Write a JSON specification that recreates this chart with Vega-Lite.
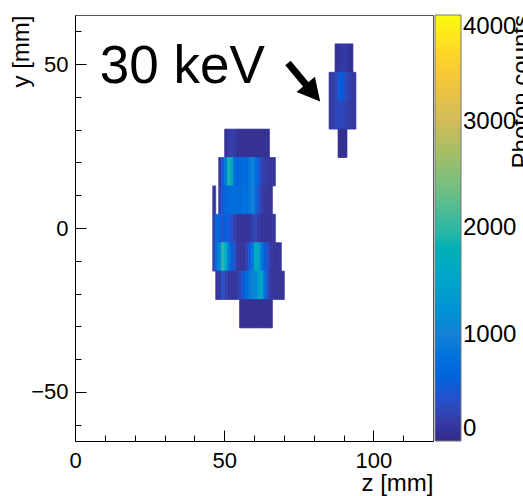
{
  "$schema": "https://vega.github.io/schema/vega-lite/v6.json",
  "width": 358,
  "height": 426,
  "autosize": {"type": "none"},
  "padding": {"left": 75, "top": 15, "right": 90, "bottom": 55},
  "background": "white",
  "config": {
    "view": {"stroke": "#555", "strokeWidth": 1},
    "font": "Liberation Sans",
    "axis": {"domainColor": "black", "domainWidth": 1, "tickColor": "black", "labelColor": "black", "titleColor": "black", "labelFont": "Liberation Sans", "titleFont": "Liberation Sans", "titleFontWeight": "normal", "labelFontSize": 22, "titleFontSize": 24, "grid": false}
  },
  "resolve": {"axis": {"x": "independent", "y": "independent"}},
  "datasets": {
    "hist": [
      {"z": 87.5, "y": 52, "c": 80}, {"z": 88.5, "y": 52, "c": 120}, {"z": 89.5, "y": 52, "c": 180}, {"z": 90.5, "y": 52, "c": 180}, {"z": 91.5, "y": 52, "c": 120}, {"z": 92.5, "y": 52, "c": 80},
      {"z": 85.5, "y": 43.33, "c": 150}, {"z": 86.5, "y": 43.33, "c": 200}, {"z": 87.5, "y": 43.33, "c": 300}, {"z": 88.5, "y": 43.33, "c": 500}, {"z": 89.5, "y": 43.33, "c": 550}, {"z": 90.5, "y": 43.33, "c": 350}, {"z": 91.5, "y": 43.33, "c": 250}, {"z": 92.5, "y": 43.33, "c": 200}, {"z": 93.5, "y": 43.33, "c": 150},
      {"z": 85.5, "y": 34.67, "c": 150}, {"z": 86.5, "y": 34.67, "c": 220}, {"z": 87.5, "y": 34.67, "c": 300}, {"z": 88.5, "y": 34.67, "c": 320}, {"z": 89.5, "y": 34.67, "c": 300}, {"z": 90.5, "y": 34.67, "c": 260}, {"z": 91.5, "y": 34.67, "c": 200}, {"z": 92.5, "y": 34.67, "c": 160}, {"z": 93.5, "y": 34.67, "c": 130},
      {"z": 88.5, "y": 26, "c": 80}, {"z": 89.5, "y": 26, "c": 80}, {"z": 90.5, "y": 26, "c": 80},
      {"z": 50.5, "y": 26, "c": 80}, {"z": 51.5, "y": 26, "c": 180}, {"z": 52.5, "y": 26, "c": 200}, {"z": 53.5, "y": 26, "c": 170}, {"z": 54.5, "y": 26, "c": 90}, {"z": 55.5, "y": 26, "c": 70}, {"z": 56.5, "y": 26, "c": 70}, {"z": 57.5, "y": 26, "c": 70}, {"z": 58.5, "y": 26, "c": 70}, {"z": 59.5, "y": 26, "c": 70}, {"z": 60.5, "y": 26, "c": 70}, {"z": 61.5, "y": 26, "c": 70}, {"z": 62.5, "y": 26, "c": 70}, {"z": 63.5, "y": 26, "c": 70}, {"z": 64.5, "y": 26, "c": 70},
      {"z": 48.5, "y": 17.33, "c": 150}, {"z": 49.5, "y": 17.33, "c": 500}, {"z": 50.5, "y": 17.33, "c": 900}, {"z": 51.5, "y": 17.33, "c": 1900}, {"z": 52.5, "y": 17.33, "c": 1500}, {"z": 53.5, "y": 17.33, "c": 700}, {"z": 54.5, "y": 17.33, "c": 600}, {"z": 55.5, "y": 17.33, "c": 650}, {"z": 56.5, "y": 17.33, "c": 700}, {"z": 57.5, "y": 17.33, "c": 700}, {"z": 58.5, "y": 17.33, "c": 850}, {"z": 59.5, "y": 17.33, "c": 1000}, {"z": 60.5, "y": 17.33, "c": 750}, {"z": 61.5, "y": 17.33, "c": 500}, {"z": 62.5, "y": 17.33, "c": 250}, {"z": 63.5, "y": 17.33, "c": 180}, {"z": 64.5, "y": 17.33, "c": 150}, {"z": 65.5, "y": 17.33, "c": 120}, {"z": 66.5, "y": 17.33, "c": 120},
      {"z": 46.5, "y": 8.67, "c": 150},
      {"z": 48.5, "y": 8.67, "c": 200}, {"z": 49.5, "y": 8.67, "c": 500}, {"z": 50.5, "y": 8.67, "c": 600}, {"z": 51.5, "y": 8.67, "c": 650}, {"z": 52.5, "y": 8.67, "c": 700}, {"z": 53.5, "y": 8.67, "c": 750}, {"z": 54.5, "y": 8.67, "c": 700}, {"z": 55.5, "y": 8.67, "c": 700}, {"z": 56.5, "y": 8.67, "c": 750}, {"z": 57.5, "y": 8.67, "c": 750}, {"z": 58.5, "y": 8.67, "c": 850}, {"z": 59.5, "y": 8.67, "c": 1000}, {"z": 60.5, "y": 8.67, "c": 700}, {"z": 61.5, "y": 8.67, "c": 400}, {"z": 62.5, "y": 8.67, "c": 200}, {"z": 63.5, "y": 8.67, "c": 150}, {"z": 64.5, "y": 8.67, "c": 120}, {"z": 65.5, "y": 8.67, "c": 120},
      {"z": 46.5, "y": 0, "c": 250}, {"z": 47.5, "y": 0, "c": 650}, {"z": 48.5, "y": 0, "c": 550}, {"z": 49.5, "y": 0, "c": 400}, {"z": 50.5, "y": 0, "c": 550}, {"z": 51.5, "y": 0, "c": 500}, {"z": 52.5, "y": 0, "c": 350}, {"z": 53.5, "y": 0, "c": 220}, {"z": 54.5, "y": 0, "c": 130}, {"z": 55.5, "y": 0, "c": 110}, {"z": 56.5, "y": 0, "c": 100}, {"z": 57.5, "y": 0, "c": 100}, {"z": 58.5, "y": 0, "c": 130}, {"z": 59.5, "y": 0, "c": 220}, {"z": 60.5, "y": 0, "c": 300}, {"z": 61.5, "y": 0, "c": 160}, {"z": 62.5, "y": 0, "c": 100}, {"z": 63.5, "y": 0, "c": 100}, {"z": 64.5, "y": 0, "c": 100}, {"z": 65.5, "y": 0, "c": 100}, {"z": 66.5, "y": 0, "c": 130},
      {"z": 46.5, "y": -8.67, "c": 250}, {"z": 47.5, "y": -8.67, "c": 800}, {"z": 48.5, "y": -8.67, "c": 1100}, {"z": 49.5, "y": -8.67, "c": 2000}, {"z": 50.5, "y": -8.67, "c": 1700}, {"z": 51.5, "y": -8.67, "c": 900}, {"z": 52.5, "y": -8.67, "c": 550}, {"z": 53.5, "y": -8.67, "c": 380}, {"z": 54.5, "y": -8.67, "c": 150}, {"z": 55.5, "y": -8.67, "c": 120}, {"z": 56.5, "y": -8.67, "c": 120}, {"z": 57.5, "y": -8.67, "c": 250}, {"z": 58.5, "y": -8.67, "c": 500}, {"z": 59.5, "y": -8.67, "c": 900}, {"z": 60.5, "y": -8.67, "c": 1700}, {"z": 61.5, "y": -8.67, "c": 1500}, {"z": 62.5, "y": -8.67, "c": 900}, {"z": 63.5, "y": -8.67, "c": 550}, {"z": 64.5, "y": -8.67, "c": 380}, {"z": 65.5, "y": -8.67, "c": 180}, {"z": 66.5, "y": -8.67, "c": 120}, {"z": 67.5, "y": -8.67, "c": 120}, {"z": 68.5, "y": -8.67, "c": 120},
      {"z": 47.5, "y": -17.33, "c": 120}, {"z": 48.5, "y": -17.33, "c": 150}, {"z": 49.5, "y": -17.33, "c": 400}, {"z": 50.5, "y": -17.33, "c": 250}, {"z": 51.5, "y": -17.33, "c": 150}, {"z": 52.5, "y": -17.33, "c": 120}, {"z": 53.5, "y": -17.33, "c": 120}, {"z": 54.5, "y": -17.33, "c": 200}, {"z": 55.5, "y": -17.33, "c": 330}, {"z": 56.5, "y": -17.33, "c": 550}, {"z": 57.5, "y": -17.33, "c": 700}, {"z": 58.5, "y": -17.33, "c": 900}, {"z": 59.5, "y": -17.33, "c": 1000}, {"z": 60.5, "y": -17.33, "c": 1100}, {"z": 61.5, "y": -17.33, "c": 1400}, {"z": 62.5, "y": -17.33, "c": 1600}, {"z": 63.5, "y": -17.33, "c": 800}, {"z": 64.5, "y": -17.33, "c": 400}, {"z": 65.5, "y": -17.33, "c": 150}, {"z": 66.5, "y": -17.33, "c": 120}, {"z": 67.5, "y": -17.33, "c": 120}, {"z": 68.5, "y": -17.33, "c": 120}, {"z": 69.5, "y": -17.33, "c": 120},
      {"z": 55.5, "y": -26, "c": 70}, {"z": 56.5, "y": -26, "c": 70}, {"z": 57.5, "y": -26, "c": 70}, {"z": 58.5, "y": -26, "c": 70}, {"z": 59.5, "y": -26, "c": 70}, {"z": 60.5, "y": -26, "c": 70}, {"z": 61.5, "y": -26, "c": 70}, {"z": 62.5, "y": -26, "c": 70}, {"z": 63.5, "y": -26, "c": 70}, {"z": 64.5, "y": -26, "c": 70}, {"z": 65.5, "y": -26, "c": 70}
    ],
    "notes": [{"z": 8.29, "y": 44.16, "label": "30 keV"}],
    "shaft": [{"z": 71.4, "y": 50.35, "z2": 77.8, "y2": 43.33}],
    "head": [{"z": 78.95, "y": 42.08}]
  },
  "layer": [
    {
      "data": {"name": "hist"},
      "mark": {"type": "rect", "binSpacing": 0, "strokeWidth": 0.7, "stroke": {"expr": "scale('color', datum.c)"}},
      "encoding": {
        "x": {"field": "z", "type": "quantitative", "bin": {"extent": [0, 120], "step": 1, "nice": false},
          "scale": {"domain": [0, 120], "nice": false, "zero": false},
          "axis": {"orient": "bottom", "title": "z [mm]", "values": [0, 50, 100], "tickSize": -11, "labelPadding": 20, "labelOverlap": false, "labelFlush": false, "titleAnchor": "end", "titlePadding": 0}},
        "y": {"field": "y", "type": "quantitative", "bin": {"extent": [-65, 65], "step": 8.666666666666666, "nice": false},
          "scale": {"domain": [-65, 65], "nice": false, "zero": false},
          "axis": {"orient": "left", "title": "y [mm]", "values": [-50, 0, 50], "tickSize": -11, "labelPadding": 18, "labelOverlap": false, "labelFlush": false, "titleAnchor": "end", "titlePadding": -3}},
        "color": {"field": "c", "type": "quantitative",
          "scale": {"domain": [0, 4000], "range": ["#352a87", "#0f5cdd", "#1481d6", "#06a4ca", "#2eb7a4", "#87bf77", "#d1bb59", "#fec832", "#f9fb0e"]},
          "legend": {"title": "Photon counts", "orient": "right", "offset": 2, "padding": 0, "direction": "vertical", "gradientLength": 426, "gradientThickness": 26, "format": "d",
            "values": [0, 1000, 2000, 3000, 4000], "labelFontSize": 24, "labelFont": "Liberation Sans", "labelColor": "black", "labelOffset": 2, "labelBaseline": "middle", "labelOverlap": false,
            "titleOrient": "right", "titleFontSize": 24, "titleFont": "Liberation Sans", "titleFontWeight": "normal", "titleColor": "black", "titlePadding": -6, "titleAnchor": "end",
            "gradientStrokeColor": "#777", "gradientStrokeWidth": 1,
            "encode": {"title": {"update": {"angle": {"value": 270}, "align": {"value": "right"}, "baseline": {"value": "top"}}}}}}
      }
    },
    {
      "data": {"name": "notes"},
      "mark": {"type": "text", "fontSize": 53, "font": "Liberation Sans", "align": "left", "baseline": "alphabetic", "color": "black"},
      "encoding": {
        "x": {"field": "z", "type": "quantitative", "scale": {"domain": [0, 120], "nice": false, "zero": false},
          "axis": {"orient": "bottom", "title": null, "values": [10, 20, 30, 40, 60, 70, 80, 90, 110], "tickSize": -6, "labels": false, "domain": false}},
        "y": {"field": "y", "type": "quantitative", "scale": {"domain": [-65, 65], "nice": false, "zero": false},
          "axis": {"orient": "left", "title": null, "values": [-60, -40, -30, -20, -10, 10, 20, 30, 40, 60], "tickSize": -6, "labels": false, "domain": false}},
        "text": {"field": "label"}
      }
    },
    {
      "data": {"name": "shaft"},
      "mark": {"type": "rule", "strokeWidth": 7, "color": "black", "strokeCap": "butt"},
      "encoding": {
        "x": {"field": "z", "type": "quantitative", "axis": null},
        "y": {"field": "y", "type": "quantitative", "axis": null},
        "x2": {"field": "z2"},
        "y2": {"field": "y2"}
      }
    },
    {
      "data": {"name": "head"},
      "mark": {"type": "point", "shape": "M0,-1L0.8,0.5L-0.8,0.5Z", "size": 900, "angle": 140, "filled": true, "color": "black", "opacity": 1},
      "encoding": {
        "x": {"field": "z", "type": "quantitative", "axis": null},
        "y": {"field": "y", "type": "quantitative", "axis": null}
      }
    }
  ]
}
